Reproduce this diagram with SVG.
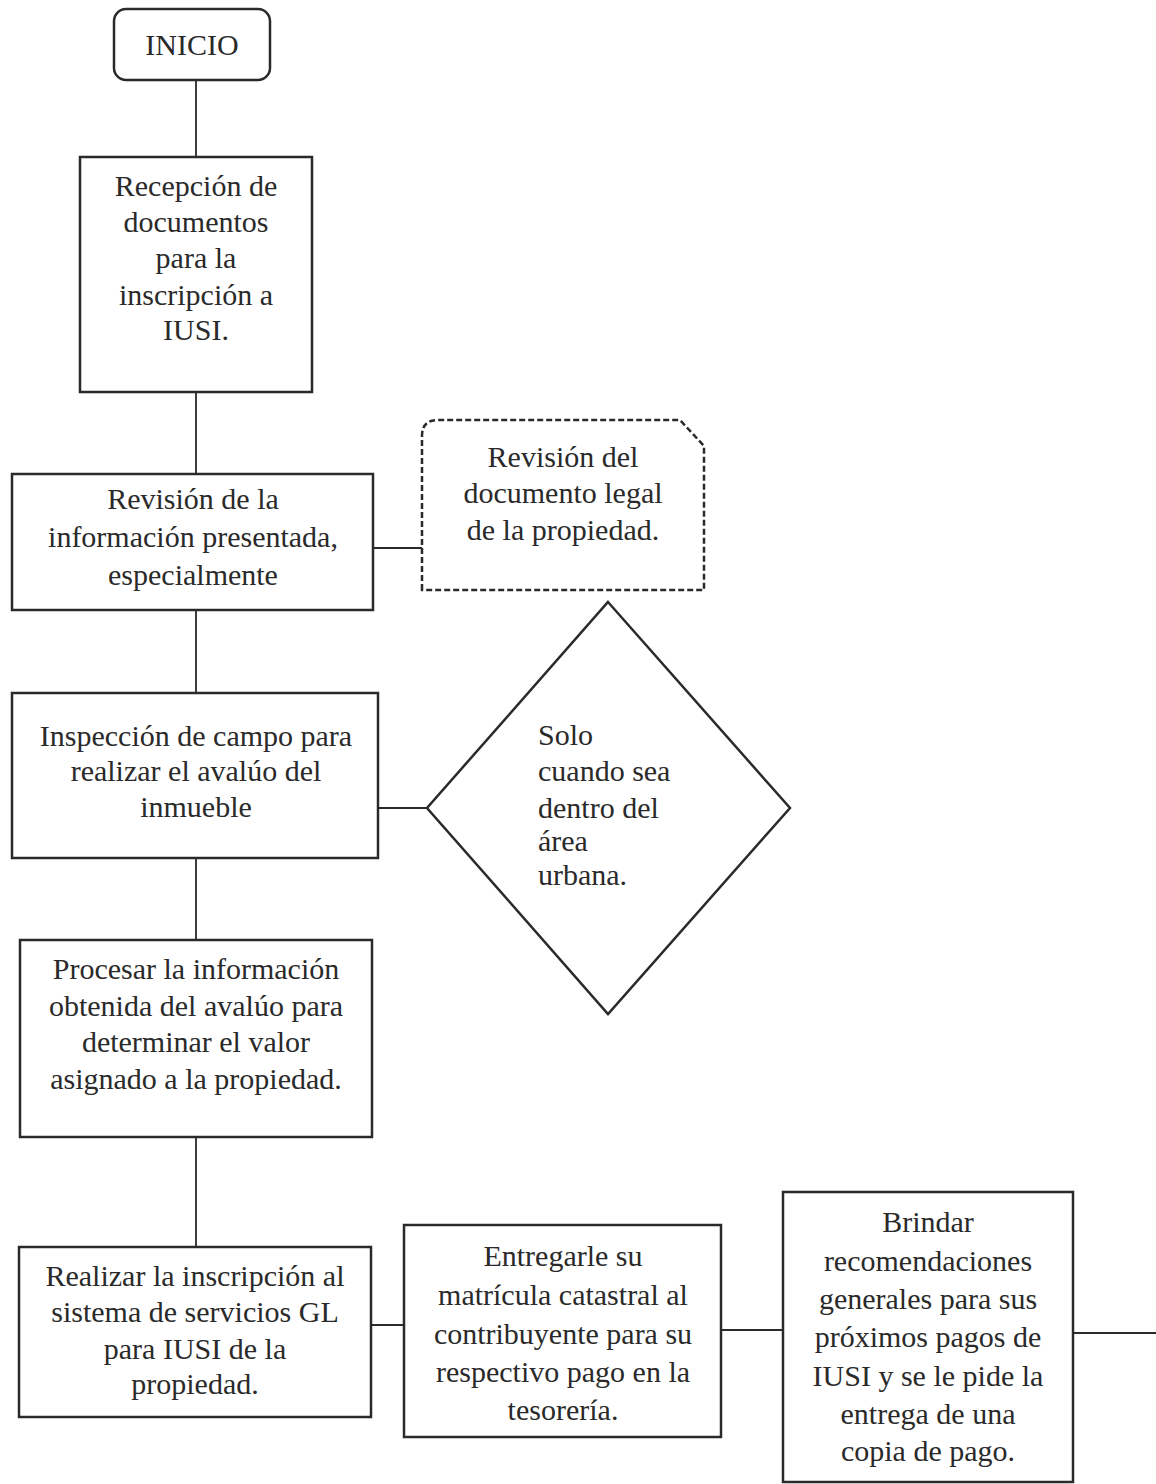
<svg xmlns="http://www.w3.org/2000/svg" width="1156" height="1484" viewBox="0 0 1156 1484">
<style>
.box{fill:#fff;stroke:#2a2a2a;stroke-width:2.5}
.dash{fill:#fff;stroke:#2a2a2a;stroke-width:2.5;stroke-dasharray:6 3}
.con{stroke:#2a2a2a;stroke-width:1.8;fill:none}
text{font-family:"Liberation Serif","Times New Roman",serif;font-size:30px;fill:#2a2a2a}
.c{text-anchor:middle}
</style>
<rect width="1156" height="1484" fill="#fff"/>
<g id="connectors">
<line class="con" x1="196" y1="80" x2="196" y2="157"/>
<line class="con" x1="196" y1="392" x2="196" y2="474"/>
<line class="con" x1="373" y1="548" x2="422" y2="548"/>
<line class="con" x1="196" y1="610" x2="196" y2="693"/>
<line class="con" x1="378" y1="808" x2="428" y2="808"/>
<line class="con" x1="196" y1="858" x2="196" y2="940"/>
<line class="con" x1="196" y1="1137" x2="196" y2="1247"/>
<line class="con" x1="371" y1="1325" x2="404" y2="1325"/>
<line class="con" x1="721" y1="1330" x2="783" y2="1330"/>
<line class="con" x1="1073" y1="1333" x2="1156" y2="1333"/>
</g>
<g id="inicio">
<rect class="box" x="114" y="9" width="156" height="71" rx="12"/>
<text class="c" x="192" y="55">INICIO</text>
</g>
<g id="recepcion">
<rect class="box" x="80" y="157" width="232" height="235"/>
<text class="c" x="196" y="196">Recepción de</text>
<text class="c" x="196" y="232">documentos</text>
<text class="c" x="196" y="268">para la</text>
<text class="c" x="196" y="305">inscripción a</text>
<text class="c" x="196" y="340">IUSI.</text>
</g>
<g id="revision">
<rect class="box" x="12" y="474" width="361" height="136"/>
<text class="c" x="193" y="509">Revisión de la</text>
<text class="c" x="193" y="547">información presentada,</text>
<text class="c" x="193" y="585">especialmente</text>
</g>
<g id="documento-legal">
<path class="dash" d="M422 590 V436 Q422 420 438 420 H680 L704 446 V590 Z"/>
<text class="c" x="563" y="467">Revisión del</text>
<text class="c" x="563" y="503">documento legal</text>
<text class="c" x="563" y="540">de la propiedad.</text>
</g>
<g id="inspeccion">
<rect class="box" x="12" y="693" width="366" height="165"/>
<text class="c" x="196" y="746">Inspección de campo para</text>
<text class="c" x="196" y="781">realizar el avalúo del</text>
<text class="c" x="196" y="817">inmueble</text>
</g>
<g id="decision">
<polygon class="box" points="608,602 790,808 608,1014 427,808"/>
<text x="538" y="745">Solo</text>
<text x="538" y="781">cuando sea</text>
<text x="538" y="818">dentro del</text>
<text x="538" y="851">área</text>
<text x="538" y="885">urbana.</text>
</g>
<g id="procesar">
<rect class="box" x="20" y="940" width="352" height="197"/>
<text class="c" x="196" y="979">Procesar la información</text>
<text class="c" x="196" y="1016">obtenida del avalúo para</text>
<text class="c" x="196" y="1052">determinar el valor</text>
<text class="c" x="196" y="1089">asignado a la propiedad.</text>
</g>
<g id="inscripcion">
<rect class="box" x="19" y="1247" width="352" height="170"/>
<text class="c" x="195" y="1286">Realizar la inscripción al</text>
<text class="c" x="195" y="1322">sistema de servicios GL</text>
<text class="c" x="195" y="1359">para IUSI de la</text>
<text class="c" x="195" y="1394">propiedad.</text>
</g>
<g id="entregarle">
<rect class="box" x="404" y="1225" width="317" height="212"/>
<text class="c" x="563" y="1266">Entregarle su</text>
<text class="c" x="563" y="1305">matrícula catastral al</text>
<text class="c" x="563" y="1344">contribuyente para su</text>
<text class="c" x="563" y="1382">respectivo pago en la</text>
<text class="c" x="563" y="1420">tesorería.</text>
</g>
<g id="brindar">
<rect class="box" x="783" y="1192" width="290" height="290"/>
<text class="c" x="928" y="1232">Brindar</text>
<text class="c" x="928" y="1271">recomendaciones</text>
<text class="c" x="928" y="1309">generales para sus</text>
<text class="c" x="928" y="1347">próximos pagos de</text>
<text class="c" x="928" y="1386">IUSI y se le pide la</text>
<text class="c" x="928" y="1424">entrega de una</text>
<text class="c" x="928" y="1461">copia de pago.</text>
</g>
</svg>
